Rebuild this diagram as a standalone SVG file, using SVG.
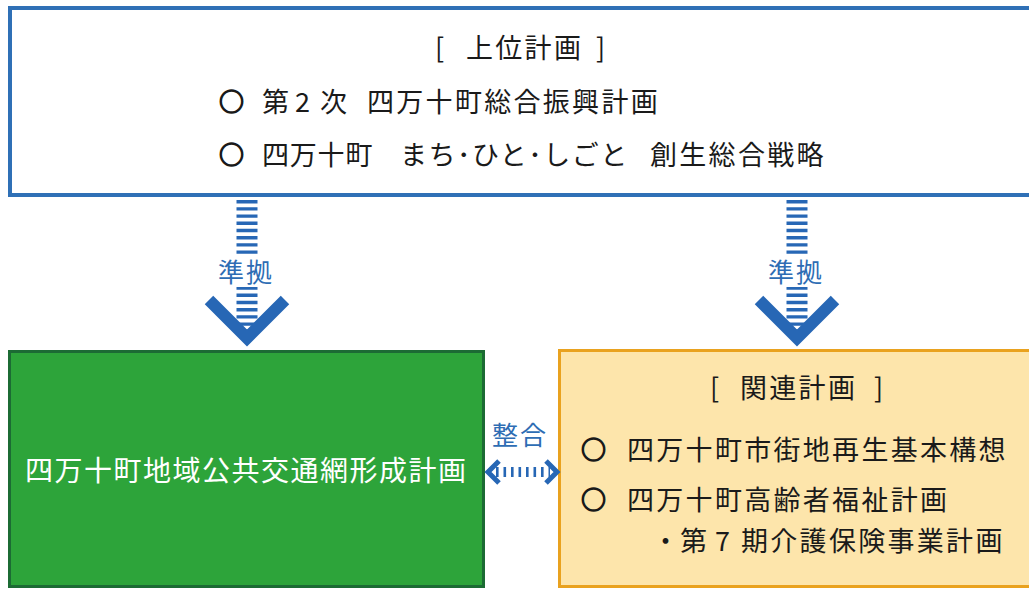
<svg xmlns="http://www.w3.org/2000/svg" width="1029" height="589" viewBox="0 0 1029 589">
<style>
.t{font-family:"Noto Sans CJK JP","Noto Sans CJK SC",sans-serif;font-size:27px;fill:#1a1a1a;letter-spacing:2.3px}
.o{font-family:"Noto Sans CJK JP","Noto Sans CJK SC",sans-serif;font-size:25px;font-weight:bold;fill:#1a1a1a;stroke:#1a1a1a;stroke-width:1.3px}
.w{font-family:"Noto Sans CJK JP","Noto Sans CJK SC",sans-serif;font-size:28px;fill:#ffffff;letter-spacing:1.5px}
.b{font-family:"Noto Sans CJK JP","Noto Sans CJK SC",sans-serif;font-size:26px;fill:#2E6DB4;letter-spacing:2px}
.bar{fill:none;stroke:#2767B5}
</style>
<rect width="1029" height="589" fill="#ffffff"/>
<g id="upper">
<rect x="10" y="8" width="1040" height="187" fill="#ffffff" stroke="#2F70B6" stroke-width="4"/>
<text class="t" x="435" y="58">[</text>
<text class="t" x="466" y="58">上位計画</text>
<text class="t" x="596" y="58">]</text>
<text class="o" x="219" y="111">○</text>
<text class="t" x="262" y="112">第</text>
<text class="t" x="295" y="112">2</text>
<text class="t" x="320" y="112">次</text>
<text class="t" x="367" y="112">四万十町総合振興計画</text>
<text class="o" x="219" y="164">○</text>
<text class="t" x="262" y="165" style="letter-spacing:0.8px">四万十町</text>
<text class="t" x="400" y="165" style="letter-spacing:1.5px">まち･ひと･しごと</text>
<text class="t" x="650" y="165">創生総合戦略</text>
</g>
<g id="main">
<rect x="9.5" y="351.5" width="474" height="235" fill="#2DA43A" stroke="#1C6B34" stroke-width="3"/>
<text class="w" x="25" y="481">四万十町地域公共交通網形成計画</text>
</g>
<g id="related">
<rect x="559.5" y="350.5" width="490" height="236" fill="#FDE5AB" stroke="#E9A21F" stroke-width="3"/>
<text class="t" x="710" y="398">[</text>
<text class="t" x="740" y="398">関連計画</text>
<text class="t" x="874" y="398">]</text>
<text class="o" x="581" y="459">○</text>
<text class="t" x="627" y="460">四万十町市街地再生基本構想</text>
<text class="o" x="581" y="509">○</text>
<text class="t" x="627" y="510">四万十町高齢者福祉計画</text>
<text class="t" x="652" y="551">・</text>
<text class="t" x="680" y="551">第</text>
<text class="t" x="715" y="551">7</text>
<text class="t" x="741" y="551">期介護保険事業計画</text>
</g>
<g id="connectors">
<g id="arrow-left">
<line class="bar" x1="247" y1="200" x2="247" y2="334" stroke-width="21" stroke-dasharray="3.4 3.8"/>
<polyline class="bar" points="209,300 247,338 285,300" stroke-width="12"/>
<rect x="218" y="256" width="58" height="31" fill="#ffffff"/>
<text class="b" x="218" y="282">準拠</text>
</g>
<g id="arrow-right">
<line class="bar" x1="797" y1="200" x2="797" y2="334" stroke-width="21" stroke-dasharray="3.4 3.8"/>
<polyline class="bar" points="759,300 797,338 835,300" stroke-width="12"/>
<rect x="768" y="256" width="58" height="31" fill="#ffffff"/>
<text class="b" x="768" y="282">準拠</text>
</g>
<g id="arrow-both">
<text class="b" x="492" y="445">整合</text>
<line class="bar" x1="496" y1="472" x2="550" y2="472" stroke-width="10" stroke-dasharray="2.6 4.9"/>
<polyline class="bar" points="499,461 488,472 499,483" stroke-width="5"/>
<polyline class="bar" points="546,461 557,472 546,483" stroke-width="5"/>
</g>
</g>
</svg>
